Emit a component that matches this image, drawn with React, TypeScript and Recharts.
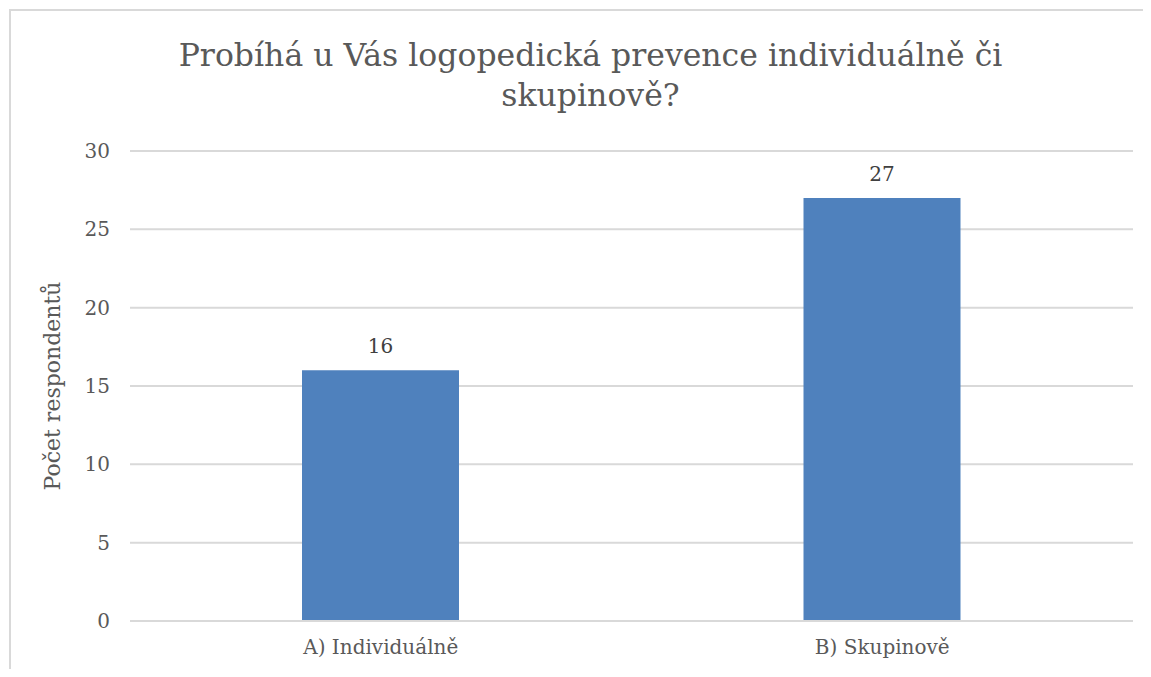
import React from 'react'
import { BarChart, Bar, XAxis, YAxis, CartesianGrid, LabelList } from 'recharts'

const categories = ['A) Individuálně', 'B) Skupinově']
const respondents = [16, 27]
const yTicks = [0, 5, 10, 15, 20, 25, 30]
const titleLines = ['Probíhá u Vás logopedická prevence individuálně či', 'skupinově?']
const yLabel = 'Počet respondentů'

const data = categories.map((name, i) => ({ name, value: respondents[i] }))

const FONT = '"DejaVu Serif", serif'
const TEXT = '#595959'

export default function App() {
  return (
    <div style={{ position: 'relative', width: 1143, height: 661, overflow: 'hidden', background: '#fff' }}>
      {/* chart frame: only the left and top edges are inside the window */}
      <div style={{
        position: 'absolute', left: 1, top: 1, width: 1142, height: 660,
        borderLeft: '2px solid #d9d9d9', borderTop: '2px solid #d9d9d9', boxSizing: 'border-box',
      }} />
      <div style={{
        position: 'absolute', left: 0, top: 27, width: 1165, textAlign: 'center',
        fontFamily: FONT, fontSize: 31.5, lineHeight: '40px', color: TEXT,
      }}>
        {titleLines.map((t) => <div key={t}>{t}</div>)}
      </div>
      <BarChart
        width={1143}
        height={661}
        data={data}
        margin={{ top: 143, right: 18, bottom: 18, left: 0 }}
        style={{ position: 'absolute', left: 0, top: 0 }}
      >
        <CartesianGrid vertical={false} stroke="#d9d9d9" strokeWidth={2} />
        <XAxis
          dataKey="name"
          axisLine={{ stroke: '#d9d9d9', strokeWidth: 2 }}
          tickLine={false}
          height={30}
          tick={{ fill: TEXT, fontSize: 20, fontFamily: FONT }}
          tickMargin={13}
        />
        <YAxis
          width={122}
          domain={[0, 30]}
          ticks={yTicks}
          axisLine={false}
          tickLine={false}
          tickMargin={14}
          tick={{ fill: TEXT, fontSize: 20, fontFamily: FONT }}
          label={{ value: yLabel, angle: -90, position: 'insideLeft', offset: 44, fill: TEXT, fontSize: 22, fontFamily: FONT, style: { textAnchor: 'middle' } }}
        />
        <Bar dataKey="value" fill="#4f81bd" barSize={157} isAnimationActive={false}>
          <LabelList dataKey="value" position="top" offset={17} fill="#404040" fontSize={20} fontFamily={FONT} />
        </Bar>
      </BarChart>
    </div>
  )
}
